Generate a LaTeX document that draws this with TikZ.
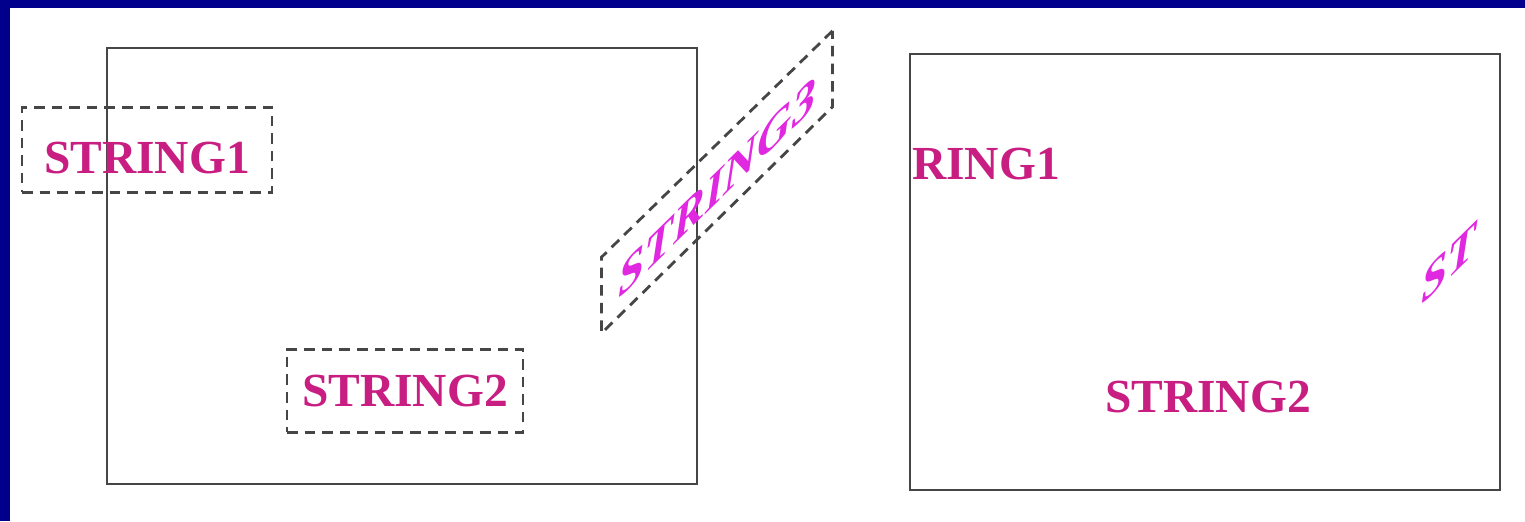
\documentclass[tikz,border=0pt]{standalone}
\usepackage{fontspec}
\setmainfont{Liberation Serif}
\usetikzlibrary{positioning}
\definecolor{framenavy}{RGB}{0,0,140}
\definecolor{strpink}{RGB}{200,30,130}
\definecolor{strmag}{RGB}{225,40,225}
\definecolor{linegray}{RGB}{70,70,70}
\tikzset{
  strtext/.style={font=\fontsize{27}{32}\selectfont\bfseries, text=strpink, inner sep=0pt},
  strslant/.style={strtext, font=\fontsize{27}{32}\selectfont\bfseries\itshape, text=strmag},
  dbox/.style={draw=linegray, line width=1.6pt, dash pattern=on 6pt off 4pt},
  window/.style={draw=linegray, line width=1.6pt},
}

\begin{document}
\begin{tikzpicture}[x=0.02cm, y=-0.02cm]
  \useasboundingbox (0,0) rectangle (1525,521);
  \fill[framenavy] (0,0) rectangle (1525,521);
  \fill[white] (10,8) rectangle (1525,521);

  % before clipping
  \draw[window] (107,48) rectangle (697,484);
  \node[strtext, dbox, minimum width=5cm, minimum height=1.7cm, text height=27pt, text depth=0pt] (s1) at (147,150) {STRING1};
  \node[strtext, dbox, minimum width=4.72cm, minimum height=1.66cm] (s2) at (405,391) {STRING2};
  \begin{scope}[shift={(717,182)}, yslant=0.98, transform shape]
    \node[strslant, dbox, minimum width=4.62cm, minimum height=1.52cm, text height=24pt, text depth=0pt] (s3) at (0,0) {STRING3};
  \end{scope}

  % after clipping: only whole characters inside the window are kept
  \begin{scope}[shift={(803,6)}]
    \draw[window] (107,48) rectangle (697,484);
    \node[strtext, minimum width=5cm, minimum height=1.7cm, text height=27pt, text depth=0pt] (c1) at (154,150) {\phantom{ST}RING1};
    \node[strtext, minimum width=4.72cm, minimum height=1.66cm] (c2) at (405,391) {STRING2};
    \begin{scope}[shift={(717,182)}, yslant=0.98, transform shape]
      \node[strslant, minimum width=4.62cm, minimum height=1.52cm, text height=24pt, text depth=0pt] (c3) at (0,0) {ST\phantom{RING3}};
    \end{scope}
  \end{scope}
\end{tikzpicture}
\end{document}
